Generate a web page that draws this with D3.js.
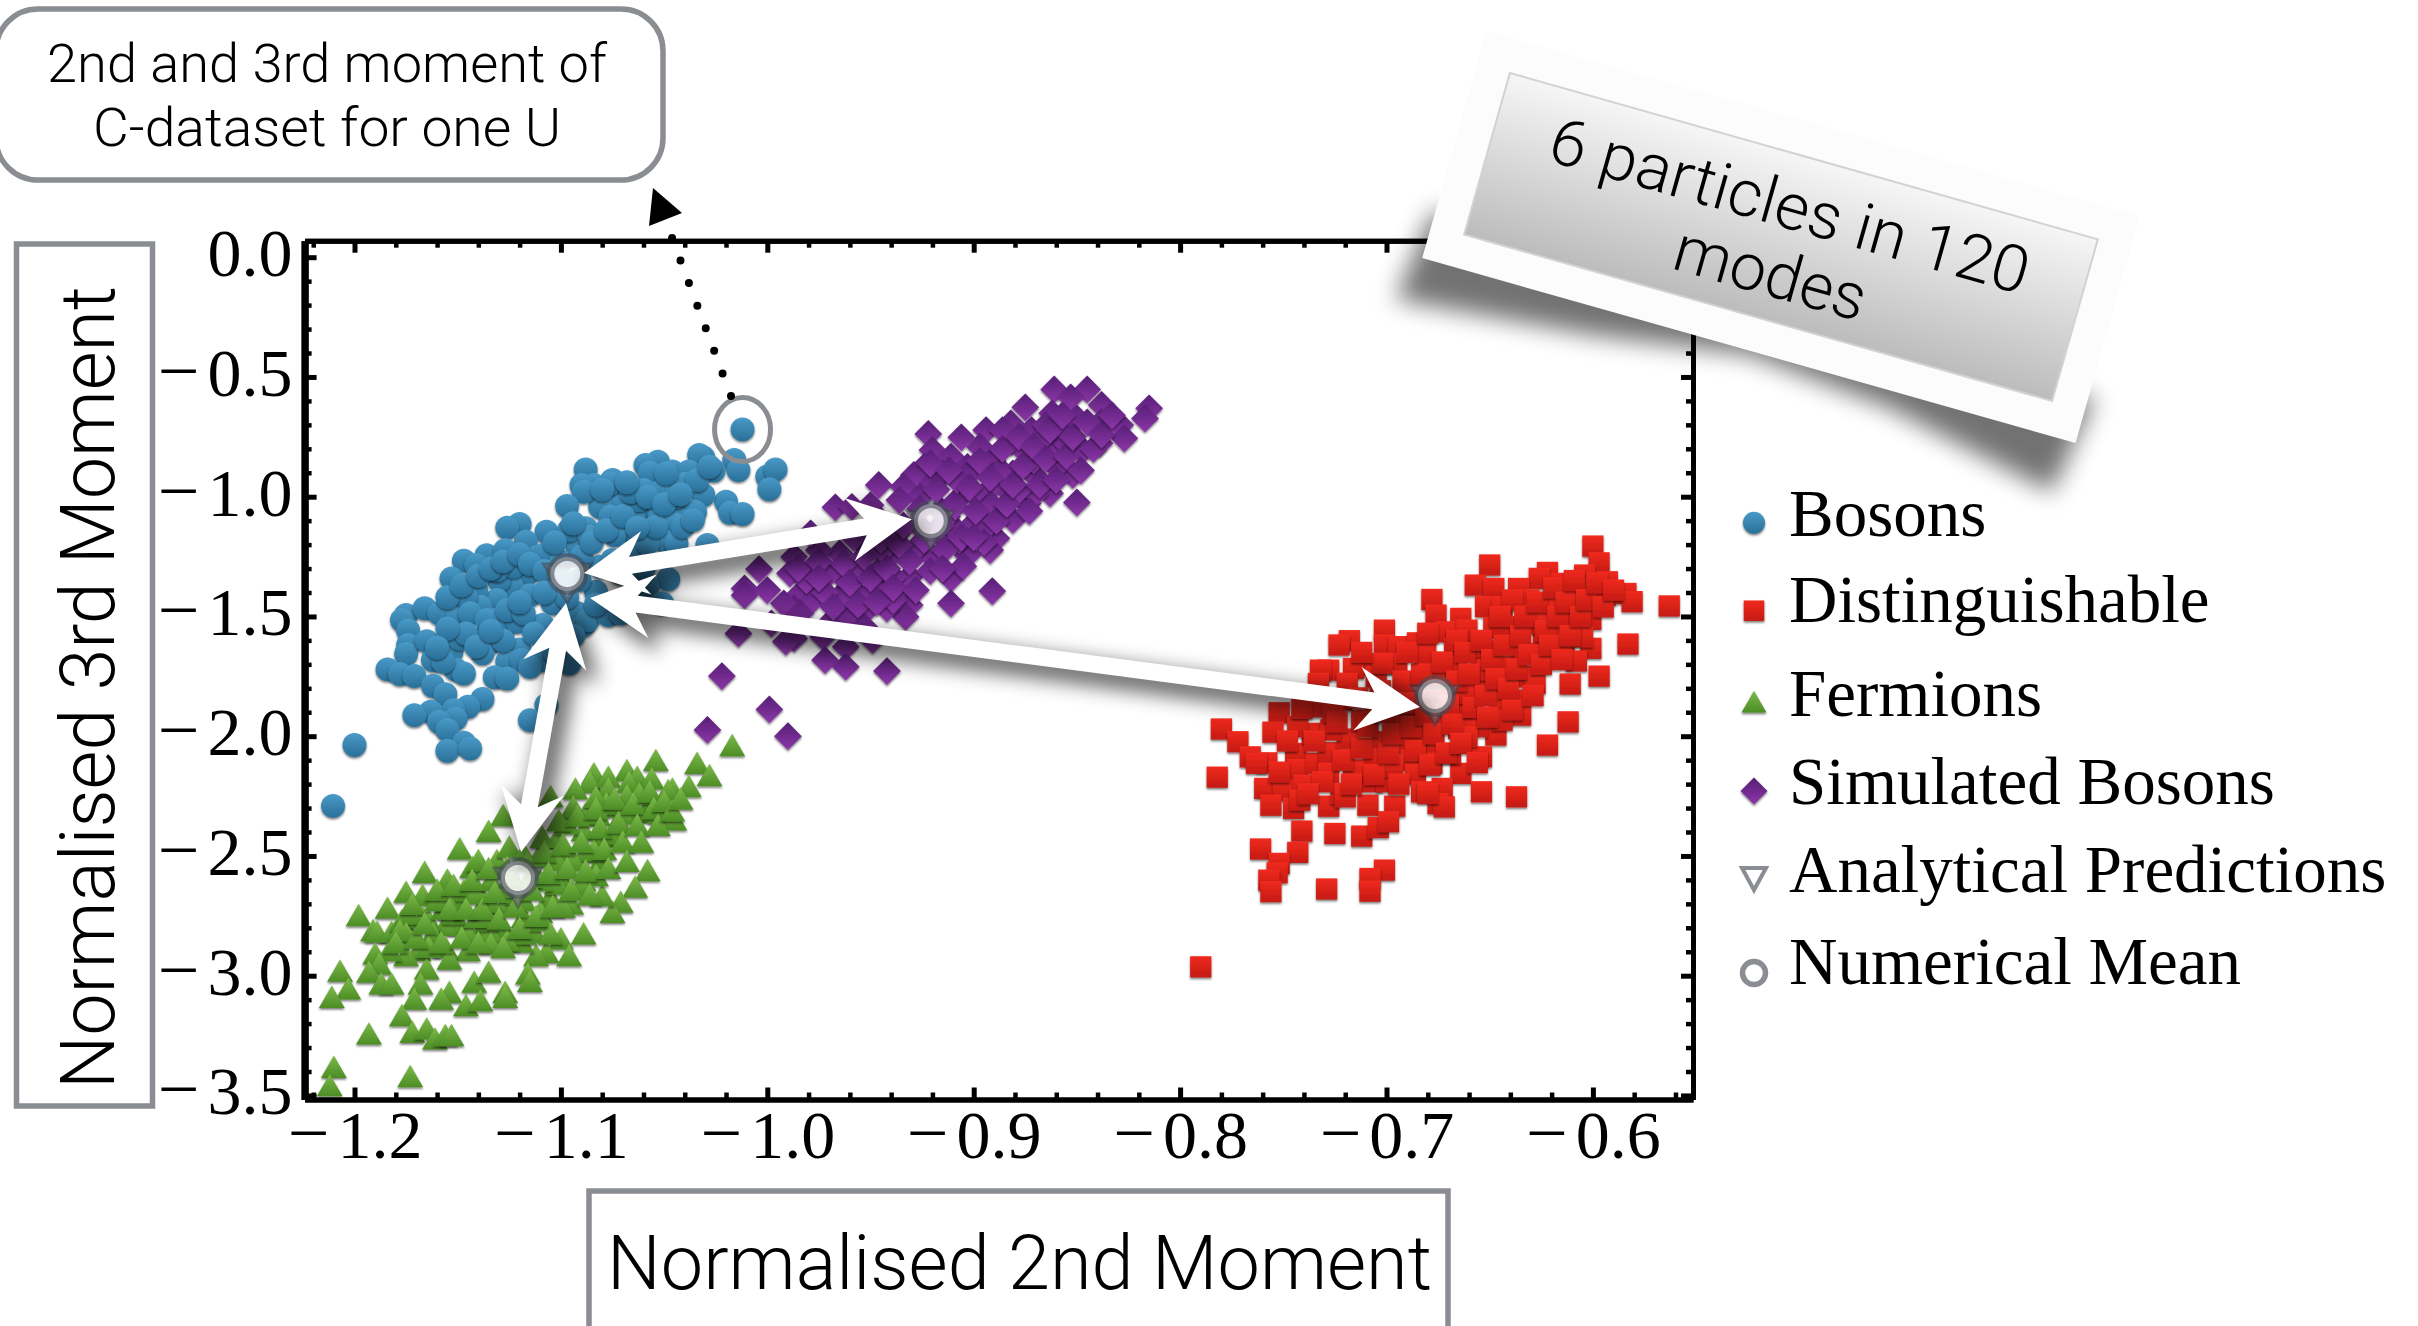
<!DOCTYPE html>
<html>
<head>
<meta charset="utf-8">
<script src="https://cdnjs.cloudflare.com/ajax/libs/d3/7.8.5/d3.min.js"></script>
<style>
    html, body { margin: 0; padding: 0; background: #fff; overflow: hidden; }
    svg { display: block; }
    .tick text { font-family: "Liberation Serif", serif; font-size: 68px; fill: #000; }
    .legend-label { font-family: "Liberation Serif", serif; font-size: 67px; fill: #000; }
    .note { font-family: "Roboto", "Liberation Sans", sans-serif; font-weight: 300; fill: #000; }
</style>
</head>
<body>
<svg id="chart" width="2418" height="1326"></svg>
<script>
// values, [2nd moment, 3rd moment]
var bosons = [[-1.012,-.719],[-1.016,-.847],[-1.014,-.889],[-1.000,-.916],[-.996,-.886],[-.999,-.969],[-1.020,-1.021],[-1.018,-1.067],[-1.012,-1.072],[-1.031,-.836],[-1.033,-.826],[-1.026,-.891],[-1.053,-.854],[-1.059,-.868],[-1.057,-.900],[-1.046,-.895],[-1.038,-.895],[-1.040,-.947],[-1.048,-.958],[-1.031,-.993],[-1.060,-.972],[-1.052,-.979],[-1.035,-1.063],[-1.045,-1.070],[-1.057,-1.042],[-1.052,-1.083],[-1.044,-1.118],[-1.071,-1.028],[-1.081,-1.042],[-1.088,-.886],[-1.075,-.930],[-1.076,-.944],[-1.084,-.951],[-1.090,-.951],[-1.089,-.979],[-1.097,-1.039],[-1.088,-1.132],[-1.092,-1.209],[-1.067,-1.139],[-1.074,-1.160],[-1.062,-1.181],[-1.049,-1.188],[-1.044,-1.195],[-1.029,-1.202],[-1.107,-1.146],[-1.096,-1.139],[-1.120,-1.114],[-1.126,-1.129],[-1.117,-1.188],[-1.111,-1.250],[-1.136,-1.244],[-1.127,-1.223],[-1.147,-1.267],[-1.141,-1.285],[-1.153,-1.341],[-1.116,-1.320],[-1.124,-1.373],[-1.130,-1.348],[-1.131,-1.431],[-1.141,-1.390],[-1.151,-1.431],[-1.139,-1.459],[-1.115,-1.411],[-1.104,-1.445],[-1.092,-1.487],[-1.089,-1.536],[-1.087,-1.515],[-1.077,-1.494],[-1.071,-1.487],[-1.083,-1.397],[-1.048,-1.344],[-1.058,-1.376],[-1.051,-1.445],[-1.175,-1.494],[-1.177,-1.515],[-1.166,-1.466],[-1.159,-1.487],[-1.150,-1.504],[-1.174,-1.559],[-1.174,-1.619],[-1.175,-1.657],[-1.165,-1.603],[-1.153,-1.647],[-1.149,-1.592],[-1.132,-1.515],[-1.126,-1.529],[-1.121,-1.522],[-1.109,-1.536],[-1.133,-1.605],[-1.138,-1.592],[-1.120,-1.638],[-1.138,-1.654],[-1.126,-1.689],[-1.119,-1.682],[-1.109,-1.682],[-1.096,-1.696],[-1.151,-1.721],[-1.147,-1.738],[-1.162,-1.682],[-1.157,-1.689],[-1.132,-1.754],[-1.126,-1.759],[-1.184,-1.721],[-1.178,-1.740],[-1.171,-1.749],[-1.162,-1.789],[-1.156,-1.825],[-1.138,-1.845],[-1.145,-1.877],[-1.152,-1.891],[-1.151,-1.926],[-1.163,-1.898],[-1.171,-1.912],[-1.159,-1.940],[-1.155,-1.974],[-1.147,-2.027],[-1.155,-2.061],[-1.144,-2.051],[-1.107,-1.870],[-1.115,-1.933],[-1.200,-2.037],[-1.2104,-2.291],[-1.107,-1.237],[-1.100,-1.271],[-1.123,-1.292],[-1.131,-1.306],[-1.146,-1.418],[-1.144,-1.487],[-1.136,-1.515],[-1.126,-1.473],[-1.118,-1.487],[-1.146,-1.571],[-1.141,-1.626],[-1.155,-1.550],[-1.113,-1.571],[-1.102,-1.598],[-1.091,-1.348],[-1.081,-1.292],[-1.075,-1.264],[-1.067,-1.237],[-1.058,-1.195],[-1.054,-1.125],[-1.041,-1.125],[-1.036,-1.097],[-1.065,-1.083],[-1.076,-1.083],[-1.086,-1.167],[-1.094,-1.111],[-1.062,-1.014],[-1.044,-1.000],[-1.034,-.930],[-1.028,-.875],[-1.049,-.902],
    [-1.155,-1.42],[-1.148,-1.37],[-1.140,-1.33],[-1.134,-1.30],[-1.128,-1.27],[-1.120,-1.24],[-1.115,-1.28],[-1.108,-1.31],[-1.103,-1.19],[-1.099,-1.36],[-1.097,-1.42],[-1.108,-1.40],[-1.120,-1.44],[-1.128,-1.60],[-1.160,-1.63],[-1.134,-1.56],[-1.090,-1.25],[-1.085,-1.19],[-1.078,-1.14],[-1.070,-1.08],[-1.066,-.98],[-1.058,-1.00],[-1.050,-1.03],[-1.042,-.99],[-1.068,-.94],[-1.063,-1.13],[-1.103,-1.65],[-1.115,-1.71],[-1.094,-1.58],[-1.083,-1.45],[-1.071,-1.32],[-1.060,-1.30],[-1.080,-.97]];

var simulatedBosons = [[-.815,-.631],[-.817,-.673],[-.845,-.552],[-.861,-.552],[-.853,-.585],[-.838,-.617],[-.875,-.627],[-.862,-.652],[-.850,-.673],[-.838,-.687],[-.829,-.701],[-.827,-.756],[-.839,-.777],[-.882,-.694],[-.872,-.722],[-.865,-.701],[-.857,-.729],[-.847,-.805],[-.894,-.722],[-.906,-.752],[-.922,-.738],[-.882,-.770],[-.897,-.791],[-.876,-.805],[-.861,-.819],[-.920,-.805],[-.911,-.833],[-.852,-.909],[-.860,-.875],[-.870,-.916],[-.881,-.903],[-.891,-.847],[-.903,-.875],[-.915,-.903],[-.924,-.875],[-.929,-.909],[-.946,-.951],[-.934,-.958],[-.920,-.944],[-.903,-.909],[-.891,-.958],[-.874,-1.028],[-.863,-.986],[-.850,-1.024],[-.881,-1.097],[-.897,-1.056],[-.908,-1.014],[-.926,-1.000],[-.936,-1.014],[-.950,-1.035],[-.967,-1.044],[-.959,-1.042],[-.889,-1.174],[-.892,-1.223],[-.903,-1.244],[-.915,-1.167],[-.900,-1.111],[-.920,-1.251],[-.911,-1.341],[-.931,-1.334],[-.941,-1.251],[-.952,-1.209],[-.965,-1.237],[-.975,-1.223],[-.979,-1.153],[-.987,-1.251],[-.989,-1.320],[-.976,-1.292],[-1.004,-1.302],[-1.011,-1.383],[-1.000,-1.390],[-1.011,-1.411],[-.984,-1.404],[-.975,-1.376],[-.958,-1.390],[-.945,-1.376],[-.936,-1.404],[-.931,-1.452],[-.933,-1.501],[-.942,-1.466],[-.952,-1.473],[-.960,-1.501],[-.978,-1.431],[-.987,-1.466],[-.965,-1.418],[-.911,-1.445],[-.891,-1.394],[-1.014,-1.571],[-.987,-1.592],[-.991,-1.605],[-.998,-1.529],[-.973,-1.585],[-.962,-1.626],[-.972,-1.682],[-.962,-1.710],[-.942,-1.728],[-1.022,-1.749],[-.999,-1.888],[-1.029,-1.974],[-.990,-2.000],[-.949,-1.598],[-.970,-1.529],[-.955,-1.292],[-.944,-1.292],[-.929,-1.223],[-.965,-1.320],[-.926,-1.125],[-.916,-1.056],[-.910,-1.125],[-.892,-1.028],[-.882,-.986],[-.870,-.986],[-.860,-.791],[-.871,-.847],[-.887,-.889],[-.900,-.986],[-.908,-.930],[-.921,-.861],[-.855,-.777],[-.866,-.749],[-.886,-.722],[-.913,-1.083],[-.907,-1.181],[-.937,-1.153],[-.939,-1.334],[-.950,-1.404],[-.970,-1.320],[-.981,-1.348],[-.992,-1.445],[-.953,-1.543],[-.939,-1.431],[-.984,-1.487],[-.944,-1.223],[-.878,-.972],[-.894,-1.125],
    [-.985,-1.30],[-.975,-1.27],[-.972,-1.40],[-.968,-1.46],[-.963,-1.28],[-.960,-1.36],[-.956,-1.45],[-.953,-1.25],[-.950,-1.34],[-.947,-1.44],[-.945,-1.18],[-.942,-1.30],[-.939,-1.38],[-.936,-1.20],[-.934,-1.12],[-.931,-1.27],[-.928,-1.39],[-.926,-1.05],[-.924,-1.18],[-.921,-1.31],[-.918,-.97],[-.916,-1.12],[-.914,-1.22],[-.912,-.89],[-.909,-1.04],[-.906,-1.17],[-.905,-1.29],[-.902,-.96],[-.899,-1.06],[-.897,-.85],[-.895,-1.19],[-.892,-.92],[-.889,-1.10],[-.886,-.80],[-.884,-1.03],[-.881,-.95],[-.878,-.75],[-.876,-.87],[-.873,-1.06],[-.871,-.79],[-.868,-.95],[-.865,-.84],[-.863,-.72],[-.860,-.93],[-.857,-.66],[-.855,-.83],[-.852,-.75],[-.848,-.89],[-.845,-.69],[-.842,-.80],[-.838,-.74],[-.833,-.66],[-.975,-1.34],[-.958,-1.17],[-.945,-1.10],[-.915,-1.30],[-.900,-1.17]];

var distinguishable = [[-.600,-1.206],[-.597,-1.276],[-.650,-1.285],[-.622,-1.316],[-.604,-1.327],[-.593,-1.355],[-.616,-1.362],[-.626,-1.341],[-.601,-1.387],[-.594,-1.411],[-.584,-1.404],[-.581,-1.438],[-.563,-1.456],[-.636,-1.383],[-.631,-1.431],[-.620,-1.466],[-.610,-1.431],[-.605,-1.438],[-.601,-1.512],[-.630,-1.494],[-.657,-1.369],[-.678,-1.429],[-.648,-1.383],[-.676,-1.494],[-.664,-1.508],[-.652,-1.459],[-.644,-1.459],[-.639,-1.431],[-.648,-1.546],[-.671,-1.564],[-.701,-1.557],[-.718,-1.601],[-.723,-1.619],[-.701,-1.619],[-.694,-1.626],[-.685,-1.610],[-.667,-1.633],[-.650,-1.644],[-.640,-1.612],[-.624,-1.585],[-.614,-1.610],[-.620,-1.661],[-.601,-1.633],[-.583,-1.615],[-.608,-1.686],[-.597,-1.749],[-.611,-1.782],[-.631,-1.752],[-.628,-1.779],[-.640,-1.710],[-.680,-1.707],[-.708,-1.703],[-.728,-1.724],[-.716,-1.717],[-.732,-1.724],[-.657,-1.779],[-.646,-1.817],[-.636,-1.849],[-.635,-1.912],[-.645,-1.863],[-.612,-1.940],[-.622,-2.037],[-.647,-1.995],[-.654,-2.086],[-.665,-1.967],[-.656,-1.960],[-.675,-1.738],[-.669,-1.821],[-.663,-1.877],[-.644,-1.933],[-.654,-1.710],[-.695,-1.696],[-.687,-1.793],[-.705,-1.877],[-.733,-1.877],[-.752,-1.902],[-.755,-1.983],[-.780,-1.970],[-.772,-2.023],[-.766,-2.086],[-.758,-2.111],[-.744,-2.072],[-.743,-2.139],[-.734,-2.113],[-.728,-2.069],[-.736,-1.988],[-.743,-1.960],[-.719,-2.012],[-.727,-1.974],[-.702,-2.023],[-.692,-2.033],[-.679,-2.033],[-.688,-2.100],[-.706,-2.093],[-.728,-2.155],[-.782,-2.171],[-.759,-2.218],[-.750,-2.225],[-.740,-2.204],[-.756,-2.288],[-.745,-2.301],[-.742,-2.267],[-.728,-2.292],[-.722,-2.239],[-.720,-2.253],[-.709,-2.288],[-.696,-2.292],[-.707,-2.190],[-.700,-2.190],[-.686,-2.158],[-.664,-2.155],[-.673,-2.218],[-.654,-2.232],[-.683,-2.232],[-.675,-2.281],[-.672,-2.295],[-.637,-2.253],[-.741,-2.396],[-.725,-2.406],[-.712,-2.417],[-.704,-2.381],[-.699,-2.357],[-.761,-2.471],[-.743,-2.485],[-.752,-2.531],[-.753,-2.570],[-.757,-2.601],[-.756,-2.649],[-.701,-2.559],[-.708,-2.594],[-.729,-2.638],[-.708,-2.647],[-.790,-2.963],[-.716,-2.141],[-.697,-2.127],[-.678,-2.113],[-.669,-2.072],[-.712,-1.933],[-.722,-1.849],[-.695,-1.933],[-.675,-1.933],[-.688,-1.877],[-.661,-2.002],[-.685,-1.988],[-.656,-1.626],[-.627,-1.529],[-.610,-1.515],[-.620,-1.571],[-.637,-1.543],[-.661,-1.557],[-.681,-1.654],[-.666,-1.710],[-.705,-1.752],[-.719,-1.779],[-.741,-1.884],[-.726,-1.898],[-.763,-2.113],[-.605,-1.585],[-.634,-1.654],[-.651,-1.724],[-.680,-2.239],[-.666,-1.599],[-.644,-1.543],[-.702,-1.696],[-.661,-1.821],[-.678,-1.821],
    [-.735,-2.02],[-.731,-2.19],[-.724,-1.94],[-.721,-2.10],[-.717,-2.20],[-.714,-1.84],[-.712,-2.05],[-.709,-1.96],[-.706,-2.16],[-.703,-1.81],[-.701,-1.90],[-.699,-2.07],[-.697,-1.99],[-.694,-2.20],[-.692,-1.77],[-.690,-1.86],[-.688,-1.96],[-.686,-2.06],[-.683,-1.74],[-.681,-1.91],[-.679,-2.12],[-.677,-1.99],[-.675,-1.80],[-.673,-1.69],[-.671,-2.07],[-.670,-1.87],[-.668,-1.95],[-.666,-1.77],[-.664,-2.03],[-.662,-1.65],[-.660,-1.74],[-.658,-1.88],[-.656,-2.11],[-.654,-1.60],[-.652,-1.83],[-.651,-1.92],[-.649,-1.68],[-.647,-1.76],[-.645,-1.50],[-.643,-1.62],[-.641,-1.80],[-.639,-1.89],[-.637,-1.72],[-.635,-1.58],[-.633,-1.50],[-.631,-1.66],[-.629,-1.83],[-.627,-1.44],[-.625,-1.70],[-.623,-1.56],[-.621,-1.62],[-.619,-1.38],[-.617,-1.50],[-.615,-1.68],[-.613,-1.44],[-.611,-1.58],[-.609,-1.35],[-.606,-1.50],[-.603,-1.43],[-.598,-1.36],[-.595,-1.46],[-.590,-1.39],[-.748,-2.02],[-.738,-2.24],[-.752,-2.15],[-.733,-1.78],[-.712,-1.65],[-.690,-1.65],[-.680,-1.57]];

var fermions = [[-1.017,-2.037],[-1.034,-2.111],[-1.028,-2.162],[-1.054,-2.099],[-1.068,-2.141],[-1.063,-2.169],[-1.056,-2.176],[-1.046,-2.218],[-1.038,-2.208],[-1.048,-2.225],[-1.084,-2.155],[-1.086,-2.190],[-1.077,-2.169],[-1.077,-2.218],[-1.067,-2.190],[-1.068,-2.246],[-1.093,-2.218],[-1.105,-2.250],[-1.059,-2.315],[-1.064,-2.311],[-1.052,-2.319],[-1.045,-2.347],[-1.056,-2.266],[-1.072,-2.294],[-1.082,-2.329],[-1.072,-2.357],[-1.080,-2.420],[-1.089,-2.392],[-1.102,-2.427],[-1.100,-2.489],[-1.128,-2.329],[-1.135,-2.395],[-1.149,-2.468],[-1.166,-2.566],[-1.175,-2.649],[-1.184,-2.716],[-1.198,-2.747],[-1.191,-2.809],[-1.189,-2.816],[-1.182,-2.816],[-1.177,-2.768],[-1.167,-2.663],[-1.155,-2.598],[-1.143,-2.545],[-1.140,-2.517],[-1.131,-2.517],[-1.125,-2.461],[-1.111,-2.503],[-1.088,-2.482],[-1.080,-2.510],[-1.058,-2.559],[-1.064,-2.628],[-1.071,-2.691],[-1.075,-2.733],[-1.080,-2.663],[-1.083,-2.580],[-1.089,-2.601],[-1.100,-2.587],[-1.090,-2.621],[-1.095,-2.698],[-1.105,-2.670],[-1.110,-2.733],[-1.118,-2.754],[-1.128,-2.795],[-1.138,-2.816],[-1.149,-2.782],[-1.156,-2.788],[-1.164,-2.768],[-1.157,-2.719],[-1.142,-2.614],[-1.127,-2.698],[-1.134,-2.698],[-1.137,-2.691],[-1.151,-2.677],[-1.167,-2.754],[-1.174,-2.740],[-1.089,-2.823],[-1.100,-2.844],[-1.107,-2.900],[-1.112,-2.914],[-1.096,-2.914],[-1.119,-2.858],[-1.113,-2.816],[-1.145,-2.893],[-1.156,-2.879],[-1.169,-2.893],[-1.175,-2.914],[-1.183,-2.893],[-1.190,-2.907],[-1.188,-2.949],[-1.193,-2.983],[-1.207,-2.979],[-1.203,-3.053],[-1.211,-3.088],[-1.187,-3.032],[-1.182,-3.032],[-1.165,-2.969],[-1.154,-2.928],[-1.168,-3.032],[-1.171,-3.095],[-1.177,-3.164],[-1.193,-3.241],[-1.172,-3.234],[-1.165,-3.220],[-1.161,-3.262],[-1.156,-3.248],[-1.153,-3.248],[-1.154,-3.067],[-1.158,-3.095],[-1.146,-3.123],[-1.142,-3.025],[-1.135,-2.983],[-1.139,-3.102],[-1.127,-3.067],[-1.127,-3.088],[-1.116,-2.990],[-1.115,-3.021],[-1.210,-3.380],[-1.212,-3.457],[-1.173,-3.419],[-1.118,-2.823],[-1.134,-2.823],[-1.126,-2.851],[-1.109,-2.768],[-1.102,-2.615],[-1.078,-2.280],[-1.070,-2.322],[-1.088,-2.322],[-1.097,-2.364],[-1.109,-2.420],[-1.118,-2.489],[-1.126,-2.545],[-1.134,-2.601],[-1.147,-2.642],[-1.160,-2.684],[-1.152,-2.740],[-1.162,-2.823],[-1.144,-2.823],[-1.136,-2.768],[-1.121,-2.656],[-1.110,-2.601],[-1.094,-2.517],[-1.084,-2.475],[-1.075,-2.406],[-1.094,-2.294],[-1.083,-2.253],[-1.062,-2.239],[-1.102,-2.517],[-1.115,-2.587],[-1.141,-2.754],[-1.175,-2.823],[-1.164,-2.879],[-1.134,-2.865],[-1.105,-2.823],[-1.155,-2.684],[-1.178,-2.809],[-1.126,-2.628],[-1.141,-2.656],[-1.118,-2.684],[-1.099,-2.712],
    [-1.180,-2.86],[-1.172,-2.70],[-1.170,-2.84],[-1.166,-2.78],[-1.160,-2.64],[-1.158,-2.86],[-1.154,-2.72],[-1.152,-2.62],[-1.148,-2.84],[-1.146,-2.72],[-1.143,-2.60],[-1.140,-2.86],[-1.138,-2.72],[-1.135,-2.55],[-1.132,-2.65],[-1.130,-2.76],[-1.128,-2.88],[-1.124,-2.58],[-1.122,-2.71],[-1.120,-2.80],[-1.116,-2.52],[-1.114,-2.64],[-1.112,-2.75],[-1.108,-2.48],[-1.106,-2.57],[-1.104,-2.71],[-1.101,-2.35],[-1.099,-2.45],[-1.097,-2.55],[-1.095,-2.64],[-1.092,-2.33],[-1.090,-2.44],[-1.088,-2.56],[-1.086,-2.66],[-1.083,-2.30],[-1.081,-2.38],[-1.079,-2.47],[-1.077,-2.55],[-1.074,-2.26],[-1.072,-2.36],[-1.070,-2.44],[-1.068,-2.52],[-1.065,-2.28],[-1.063,-2.37],[-1.061,-2.44],[-1.057,-2.23],[-1.055,-2.30],[-1.053,-2.37],[-1.050,-2.27],[-1.046,-2.31],[-1.042,-2.26]];

// one point of the boson cloud is picked out with a ring
var highlighted = [-1.012, -.719];

// analytical prediction / numerical mean for each species
var means = [[-1.0969,-1.323],[-.9208,-1.1015],[-.6765,-1.832],[-1.1208,-2.592]];

// tips of the white double headed arrows
var arrowEnds = [
    [[-1.0888,-1.3186],[-.930,-1.0944]],
    [[-1.0859,-1.423],[-.6838,-1.878]],
    [[-1.0975,-1.4439],[-1.1193,-2.4835]]
];

var xMajor = [-1.2,-1.1,-1.0,-0.9,-0.8,-0.7,-0.6];
var xMinor = [-1.22,-1.18,-1.16,-1.14,-1.12,-1.08,-1.06,-1.04,-1.02,-0.98,-0.96,-0.94,-0.92,-0.88,-0.86,-0.84,-0.82,-0.78,-0.76,-0.74,-0.72,-0.68,-0.66,-0.64,-0.62,-0.58,-0.56];
var yMajor = [0,-0.5,-1,-1.5,-2,-2.5,-3,-3.5];
var yMinor = [-0.1,-0.2,-0.3,-0.4,-0.6,-0.7,-0.8,-0.9,-1.1,-1.2,-1.3,-1.4,-1.6,-1.7,-1.8,-1.9,-2.1,-2.2,-2.3,-2.4,-2.6,-2.7,-2.8,-2.9,-3.1,-3.2,-3.3,-3.4];

var legendNames = ["Bosons","Distinguishable","Fermions","Simulated Bosons","Analytical Predictions","Numerical Mean"];

var svg = d3.select("#chart");
var defs = svg.append("defs");

function vGrad(id, c0, c1) {
    var g = defs.append("linearGradient").attr("id", id)
        .attr("x1", 0).attr("y1", 0).attr("x2", 0).attr("y2", 1);
    g.append("stop").attr("offset", "0%").attr("stop-color", c0);
    g.append("stop").attr("offset", "100%").attr("stop-color", c1);
}
vGrad("gBlue", "#4a9ac8", "#296f98");
vGrad("gRed", "#f02a1e", "#c41a12");
vGrad("gGreen", "#7dba4a", "#4c8d25");
vGrad("gPurple", "#561f75", "#8c36a8");
vGrad("gCard", "#f6f6f6", "#bcbcbc");

function blur(id, dev) {
    defs.append("filter").attr("id", id)
        .attr("x", "-30%").attr("y", "-60%").attr("width", "160%").attr("height", "220%")
        .append("feGaussianBlur").attr("stdDeviation", dev);
}
blur("blurArrow", 10);
blur("blurCard", 12);

var sh = defs.append("filter").attr("id", "markShadow")
    .attr("x", "-30%").attr("y", "-30%").attr("width", "160%").attr("height", "170%");
sh.append("feDropShadow").attr("dx", 0).attr("dy", 1.6).attr("stdDeviation", 1.3)
    .attr("flood-color", "#000").attr("flood-opacity", 0.55);

var x = d3.scaleLinear().domain([-1.22418,-0.5515]).range([304.6,1693]);
var y = d3.scaleLinear().domain([0.0689,-3.5169]).range([240.7,1099.5]);
var plotTop = 240.7, plotBottom = 1099.5, plotLeft = 304.6, plotRight = 1693;

// frame, ticks and labels
function styleAxis(g, w, lw) {
    g.select(".domain").attr("stroke", "#000").attr("stroke-width", w).attr("fill", "none");
    g.selectAll(".tick line").attr("stroke", "#000").attr("stroke-width", lw);
}
// the minus in the original is wider and sits a bit off the digits
function splitMinus(g) {
    g.selectAll(".tick text").each(function (d) {
        if (d === 0) return;
        var t = d3.select(this), s = t.text();
        t.text(null);
        t.append("tspan").attr("font-size", 74).text("\u2212");
        t.append("tspan").attr("dx", 8).text(s.slice(1));
    });
}
var fmt = d3.format(".1f");
var axes = svg.append("g");

axes.append("g").attr("transform", "translate(0," + plotBottom + ")")
    .call(d3.axisBottom(x).tickValues(xMajor).tickFormat(fmt).tickSizeInner(-12).tickSizeOuter(0).tickPadding(10))
    .call(styleAxis, 5, 5).call(splitMinus);
axes.append("g").attr("transform", "translate(0," + plotBottom + ")")
    .call(d3.axisBottom(x).tickValues(xMinor).tickFormat("").tickSizeInner(-7).tickSizeOuter(0))
    .call(styleAxis, 5, 4.5);
axes.append("g").attr("transform", "translate(0," + plotTop + ")")
    .call(d3.axisTop(x).tickValues(xMajor).tickFormat("").tickSizeInner(-12).tickSizeOuter(0))
    .call(styleAxis, 5, 5);
axes.append("g").attr("transform", "translate(0," + plotTop + ")")
    .call(d3.axisTop(x).tickValues(xMinor).tickFormat("").tickSizeInner(-7).tickSizeOuter(0))
    .call(styleAxis, 5, 4.5);
var yLeft = axes.append("g").attr("transform", "translate(" + plotLeft + ",0)")
    .call(d3.axisLeft(y).tickValues(yMajor).tickFormat(fmt).tickSizeInner(-12).tickSizeOuter(0).tickPadding(12))
    .call(styleAxis, 7, 5).call(splitMinus);
yLeft.selectAll(".tick text").attr("dy", "0.27em");
axes.append("g").attr("transform", "translate(" + plotLeft + ",0)")
    .call(d3.axisLeft(y).tickValues(yMinor).tickFormat("").tickSizeInner(-7).tickSizeOuter(0))
    .call(styleAxis, 7, 4.5);
axes.append("g").attr("transform", "translate(" + plotRight + ",0)")
    .call(d3.axisRight(y).tickValues(yMajor).tickFormat("").tickSizeInner(-12).tickSizeOuter(0))
    .call(styleAxis, 5, 5);
axes.append("g").attr("transform", "translate(" + plotRight + ",0)")
    .call(d3.axisRight(y).tickValues(yMinor).tickFormat("").tickSizeInner(-7).tickSizeOuter(0))
    .call(styleAxis, 5, 4.5);

// markers
var marks = {
    circle: { path: d3.symbol().type(d3.symbolCircle).size(450)(), fill: "url(#gBlue)", dy: 0 },
    square: { path: d3.symbol().type(d3.symbolSquare).size(450)(), fill: "url(#gRed)", dy: 0 },
    triangle: { path: d3.symbol().type(d3.symbolTriangle).size(290)(), fill: "url(#gGreen)", dy: 3.7 },
    diamond: { path: d3.symbol().type(d3.symbolDiamond2).size(490)(), fill: "url(#gPurple)", dy: 0 }
};

function drawSeries(data, m) {
    svg.append("g").selectAll("path").data(data).join("path")
        .attr("d", m.path)
        .attr("fill", m.fill)
        .attr("filter", "url(#markShadow)")
        .attr("transform", function (d) { return "translate(" + x(d[0]) + "," + (y(d[1]) + m.dy) + ")"; });
}
drawSeries(bosons, marks.circle);
drawSeries(distinguishable, marks.square);
drawSeries(simulatedBosons, marks.diamond);
drawSeries(fermions, marks.triangle);

// means with the prediction triangle behind them
var mg = svg.append("g").selectAll("g").data(means).join("g")
    .attr("transform", function (d) { return "translate(" + x(d[0]) + "," + y(d[1]) + ")"; });
mg.append("path").attr("d", "M-22,-9L22,-9L0,27Z")
    .attr("fill", "rgba(255,255,255,0.3)").attr("stroke", "rgba(65,70,80,0.55)").attr("stroke-width", 5);
mg.append("circle").attr("r", 17).attr("fill", "rgba(255,255,255,0.82)")
    .attr("stroke", "rgba(70,75,85,0.6)").attr("stroke-width", 8);

// white double headed arrows, shadow first
function arrowPath(e) {
    var x0 = x(e[0][0]), y0 = y(e[0][1]), x1 = x(e[1][0]), y1 = y(e[1][1]);
    var len = Math.hypot(x1 - x0, y1 - y0), ux = (x1 - x0) / len, uy = (y1 - y0) / len;
    var nx = -uy, ny = ux, hl = 63, hw = 32, nt = 47, sw = 8.5;
    function pt(a, b) { return [x0 + ux * a + nx * b, y0 + uy * a + ny * b]; }
    var pts = [pt(0,0), pt(hl,hw), pt(nt,sw), pt(len-nt,sw), pt(len-hl,hw), pt(len,0),
               pt(len-hl,-hw), pt(len-nt,-sw), pt(nt,-sw), pt(hl,-hw)];
    return d3.line()(pts) + "Z";
}
svg.append("g").selectAll("path").data(arrowEnds).join("path")
    .attr("d", arrowPath)
    .attr("transform", "translate(8,10)")
    .attr("fill", "#000").attr("stroke", "#000").attr("stroke-width", 8).attr("opacity", 0.6)
    .attr("filter", "url(#blurArrow)");
svg.append("g").selectAll("path").data(arrowEnds).join("path")
    .attr("d", arrowPath)
    .attr("fill", "#fff");

// ring on one data point and the dotted pointer up to the callout
svg.append("ellipse")
    .attr("cx", x(highlighted[0])).attr("cy", y(highlighted[1]))
    .attr("rx", 28).attr("ry", 32)
    .attr("fill", "none").attr("stroke", "#8a8d91").attr("stroke-width", 5);
svg.append("line")
    .attr("x1", 731).attr("y1", 396).attr("x2", 672).attr("y2", 237.7)
    .attr("stroke", "#000").attr("stroke-width", 8).attr("stroke-linecap", "round")
    .attr("stroke-dasharray", "0 24.1");
svg.append("path").attr("d", "M653,188L682,213L649,226Z").attr("fill", "#000");

// callout
svg.append("rect").attr("x", -4).attr("y", 9).attr("width", 667).attr("height", 171).attr("rx", 42)
    .attr("fill", "#fff").attr("stroke", "#8a8d91").attr("stroke-width", 5.5);
svg.append("text").attr("class", "note").attr("x", 327).attr("y", 82).attr("text-anchor", "middle")
    .attr("font-size", 53).attr("textLength", 560).attr("lengthAdjust", "spacingAndGlyphs").text("2nd and 3rd moment of");
svg.append("text").attr("class", "note").attr("x", 327).attr("y", 146).attr("text-anchor", "middle")
    .attr("font-size", 53).attr("textLength", 468).attr("lengthAdjust", "spacingAndGlyphs").text("C-dataset for one U");

// axis title boxes
svg.append("rect").attr("x", 16.5).attr("y", 244).attr("width", 136).attr("height", 862)
    .attr("fill", "#fff").attr("stroke", "#8a8d91").attr("stroke-width", 5.5);
svg.append("text").attr("class", "note").attr("transform", "translate(114,1089) rotate(-90)")
    .attr("font-size", 76).attr("textLength", 803).attr("lengthAdjust", "spacingAndGlyphs").text("Normalised 3rd Moment");
svg.append("rect").attr("x", 589).attr("y", 1191).attr("width", 859).attr("height", 160)
    .attr("fill", "#fff").attr("stroke", "#8a8d91").attr("stroke-width", 5.5);
svg.append("text").attr("class", "note").attr("x", 607).attr("y", 1289)
    .attr("font-size", 76).attr("textLength", 825).attr("lengthAdjust", "spacingAndGlyphs").text("Normalised 2nd Moment");

// tilted note on top of the frame
var card = svg.append("g").attr("transform", "translate(1781,237) rotate(15.8)");
card.append("path")
    .attr("d", "M-342,70L-354,165L-150,145L0,122L150,135L330,172L346,70Z")
    .attr("fill", "#000").attr("opacity", 0.55).attr("filter", "url(#blurCard)");
card.append("rect").attr("x", -339.5).attr("y", -118).attr("width", 679).attr("height", 236).attr("fill", "#fcfcfc");
card.append("rect").attr("x", -305.5).attr("y", -84).attr("width", 611).attr("height", 168)
    .attr("fill", "url(#gCard)").attr("stroke", "#d2d2d2").attr("stroke-width", 2);
card.append("text").attr("class", "note").attr("x", 0).attr("y", -10).attr("text-anchor", "middle")
    .attr("font-size", 65).attr("textLength", 495).attr("lengthAdjust", "spacingAndGlyphs").text("6 particles in 120");
card.append("text").attr("class", "note").attr("x", 0).attr("y", 60).attr("text-anchor", "middle")
    .attr("font-size", 65).text("modes");

// legend
var legendBase = [535.7,622.3,715.7,803.7,891.7,983.5];
var legendMarkY = [522.8,610.7,701.6,791,879,973];
svg.append("g").selectAll("text").data(legendNames).join("text")
    .attr("class", "legend-label")
    .attr("x", 1789)
    .attr("y", function (d, i) { return legendBase[i]; })
    .text(function (d) { return d; });
var lx = 1754;
svg.append("path").attr("d", d3.symbol().type(d3.symbolCircle).size(380)())
    .attr("fill", "url(#gBlue)").attr("filter", "url(#markShadow)")
    .attr("transform", "translate(" + lx + "," + legendMarkY[0] + ")");
svg.append("path").attr("d", d3.symbol().type(d3.symbolSquare).size(420)())
    .attr("fill", "url(#gRed)").attr("filter", "url(#markShadow)")
    .attr("transform", "translate(" + lx + "," + legendMarkY[1] + ")");
svg.append("path").attr("d", d3.symbol().type(d3.symbolTriangle).size(270)())
    .attr("fill", "url(#gGreen)").attr("filter", "url(#markShadow)")
    .attr("transform", "translate(" + lx + "," + (legendMarkY[2] + 3.6) + ")");
svg.append("path").attr("d", d3.symbol().type(d3.symbolDiamond2).size(465)())
    .attr("fill", "url(#gPurple)").attr("filter", "url(#markShadow)")
    .attr("transform", "translate(" + lx + "," + legendMarkY[3] + ")");
svg.append("path").attr("d", "M-12,-11L12,-11L0,11Z")
    .attr("fill", "none").attr("stroke", "#8a8d91").attr("stroke-width", 4)
    .attr("transform", "translate(" + lx + "," + legendMarkY[4] + ")");
svg.append("circle").attr("cx", lx).attr("cy", legendMarkY[5]).attr("r", 11.5)
    .attr("fill", "none").attr("stroke", "#8a8d91").attr("stroke-width", 5.5);
</script>
</body>
</html>
